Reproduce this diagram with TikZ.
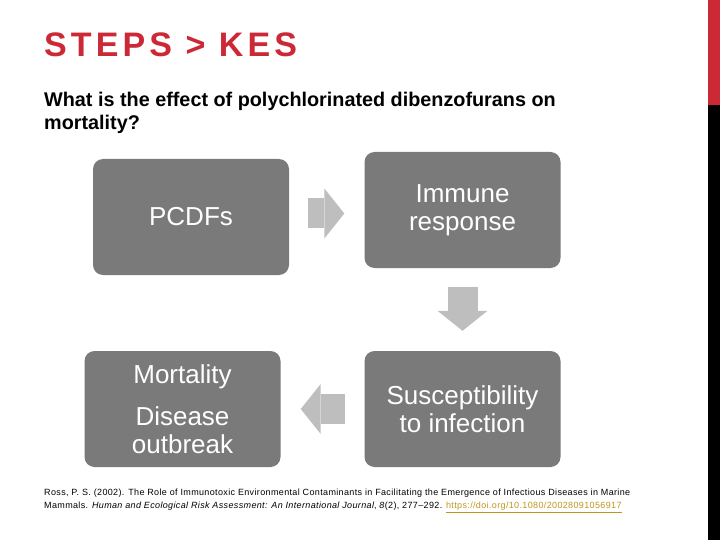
\documentclass[tikz,border=0pt]{standalone}
\usepackage{fontspec}
\setmainfont{Liberation Sans}
\usetikzlibrary{calc,arrows.meta}
\definecolor{titlered}{RGB}{204,41,54}
\definecolor{boxgray}{RGB}{122,122,122}
\definecolor{arrowgray}{RGB}{190,190,190}
\definecolor{linkgold}{RGB}{190,150,30}

\begin{document}
\begin{tikzpicture}[x=1pt,y=-1pt,
	kebox/.style={fill=boxgray, rounded corners=10pt, minimum width=196pt, minimum height=116pt,
		inner sep=0pt, text=white, align=center, font=\fontsize{26}{28}\selectfont},
	fatarrow/.style={draw=arrowgray, line width=30pt, -{Triangle[length=20pt,width=50pt,line width=0pt]},
		shorten <=19pt, shorten >=20pt}]
				\useasboundingbox (0,0) rectangle (720,540);
				
				\fill[titlered] (708,0) rectangle (720,105);
				\fill[black] (708,105) rectangle (720,540);
				
				\node[anchor=base west, inner sep=0pt, text=titlered,
					font=\fontsize{34}{36}\selectfont\bfseries\addfontfeature{LetterSpace=12}] (title) at (44,57) {STEPS > KES};
				\node[anchor=north west, inner sep=0pt, align=left,
					font=\fontsize{19.8}{23}\selectfont\bfseries] (question) at (44,92) {What is the effect of polychlorinated dibenzofurans on\\mortality?};
				
				\node[kebox] (pcdf) at (191,217) {PCDFs};
				\node[kebox] (immune) at (462.5,210) {Immune\\response};
				\node[kebox] (mort) at (182.5,409) {Mortality\\[14pt]Disease\\outbreak};
				\node[kebox] (susc) at (462.5,409) {Susceptibility\\to infection};
				
				\coordinate (a1) at ($(pcdf.east)!0.5!(immune.west)$);
				\draw[fatarrow] (a1 -| pcdf.east) -- (a1 -| immune.west);
				\draw[fatarrow] (immune.south) -- (susc.north);
				\draw[fatarrow] (susc.west) -- (mort.east);
				
				\node[anchor=north west, inner sep=0pt, align=left,
					font=\fontsize{9}{13}\selectfont\addfontfeature{LetterSpace=4}] (ref) at (44,489) {Ross, P. S. (2002). The Role of Immunotoxic Environmental Contaminants in Facilitating the Emergence of Infectious Diseases in Marine\\Mammals. \textit{Human and Ecological Risk Assessment: An International Journal}, \textit{8}(2), 277--292. \textcolor{linkgold}{\underline{https://doi.org/10.1080/20028091056917}}};
\end{tikzpicture}
\end{document}
